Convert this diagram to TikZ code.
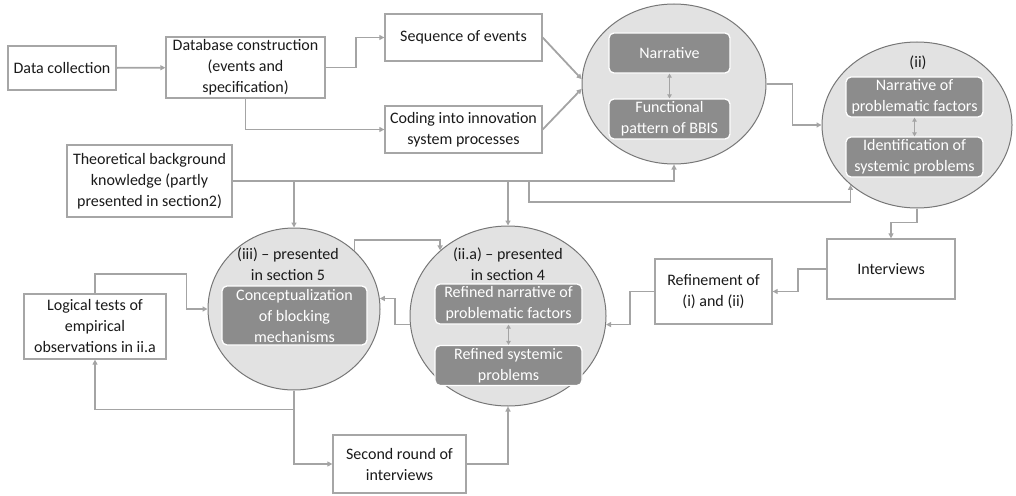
\documentclass[tikz,border=0pt]{standalone}
\usepackage{fontspec}
\setmainfont{Carlito}
\usetikzlibrary{arrows.meta,shapes.geometric,calc}
\definecolor{linegray}{HTML}{A4A4A4}
\definecolor{boxline}{HTML}{A6A6A6}
\definecolor{ovalfill}{HTML}{E2E2E2}
\definecolor{ovalline}{HTML}{777777}
\definecolor{innerfill}{HTML}{8C8C8C}
\definecolor{txt}{HTML}{1A1A1A}

\tikzset{
  conn/.style={draw=linegray, line width=1.8pt, -{Triangle[length=5pt,width=5pt]}},
  twoway/.style={draw=linegray, line width=1.4pt, {Triangle[length=4pt,width=4.5pt]}-{Triangle[length=4pt,width=4.5pt]}},
  txtbox/.style={draw=boxline, line width=1.3pt, fill=white, align=center, text=txt,
    font=\fontsize{16}{21}\selectfont, inner sep=0pt},
  oval/.style={ellipse, draw=ovalline, fill=ovalfill, line width=1pt, inner sep=0pt},
  innerbox/.style={draw=white, fill=innerfill, rounded corners=5pt, line width=1.3pt,
    text=white, align=center, font=\fontsize{16}{21}\selectfont, inner sep=0pt},
  ovallabel/.style={align=center, text=txt, font=\fontsize{16}{21}\selectfont, inner sep=0pt},
}

\begin{document}
\begin{tikzpicture}[x=1pt,y=-1pt]
\useasboundingbox (0,0) rectangle (1016,495);

% rectangular steps
\node[txtbox, minimum width=108, minimum height=44] (dc)  at (62,68)      {Data collection};
\node[txtbox, minimum width=159, minimum height=61] (db)  at (245.5,67.5) {Database construction\\(events and\\specification)};
\node[txtbox, minimum width=157, minimum height=47] (seq) at (463.5,37.5) {Sequence of events};
\node[txtbox, minimum width=157, minimum height=47] (cod) at (463.5,129.5) {Coding into innovation\\system processes};
\node[txtbox, minimum width=165, minimum height=72] (th)  at (149.5,181)  {Theoretical background\\knowledge (partly\\presented in section2)};
\node[txtbox, minimum width=142, minimum height=65] (lg)  at (95,326.5)   {Logical tests of\\empirical\\observations in ii.a};
\node[txtbox, minimum width=133, minimum height=58] (sr)  at (399.5,464)  {Second round of\\interviews};
\node[txtbox, minimum width=117, minimum height=65] (ref) at (713.5,291.5) {Refinement of\\(i) and (ii)};
\node[txtbox, minimum width=128, minimum height=60] (int) at (891,269)    {Interviews};

% analysis stages
\node[oval, minimum width=184, minimum height=160] (e1) at (674,84) {};
\node[oval, minimum width=190, minimum height=166] (e2) at (917,125) {};
\node[oval, minimum width=172, minimum height=162] (e3) at (294,309) {};
\node[oval, minimum width=196, minimum height=180] (e4) at (508,316) {};

\node[innerbox, minimum width=121, minimum height=40] (n1) at (669.5,53)  {Narrative};
\node[innerbox, minimum width=121, minimum height=40] (f1) at (669.5,119) {Functional\\pattern of BBIS};

\node[ovallabel] (l2) at (918,63) {(ii)};
\node[innerbox, minimum width=137, minimum height=40] (n2) at (914.5,97)  {Narrative of\\problematic factors};
\node[innerbox, minimum width=137, minimum height=40] (i2) at (914.5,157) {Identification of\\systemic problems};

\node[ovallabel] (l3) at (288,264) {(iii) -- presented\\in section 5};
\node[innerbox, minimum width=145, minimum height=59] (c3) at (294.5,315.5) {Conceptualization\\of blocking\\mechanisms};

\node[ovallabel] (l4) at (508,264) {(ii.a) -- presented\\in section 4};
\node[innerbox, minimum width=147, minimum height=40] (r4) at (508.5,304) {Refined narrative of\\problematic factors};
\node[innerbox, minimum width=147, minimum height=40] (s4) at (508.5,365.5) {Refined systemic\\problems};

% links inside the stages
\draw[twoway] (n1) -- (f1);
\draw[twoway] (n2) -- (i2);
\draw[twoway] (r4) -- (s4);

% flow of the study
\draw[conn] (dc) -- (db);
\draw[conn] (db.east) -- ++(30,0) |- (seq.west);
\draw[conn] (db.south) |- (cod.west);
\draw[conn] (seq.east) -- (e1.177);
\draw[conn] (cod.east) -- (e1.183);
\draw[conn] (e1.east) -- ++(26,0) |- (e2.west);

% theory feeding the stages
\coordinate (split) at (529,181);
\coordinate (low) at (0,202);
\draw[conn] (th.east) -| (e1.south);
\draw[conn] (e3.north |- th.east) -- (e3.north);
\draw[conn] (e4.north |- th.east) -- (e4.north);
\draw[conn] (split) |- (e2.222 |- low) -- (e2.222);

% interviews and refinement
\draw[conn] (e2.south) -- ++(0,14) -| (int.north);
\draw[conn] (int.west) -- ++(-28,0) |- (ref.east);
\draw[conn] (ref.west) -- ++(-24,0) |- (e4.-5);
\draw[conn] (e4.185) -- ++(-15,0) |- (e3.7);
\draw[conn] (e3.44) -- ++(0,-11) -| (e4.136);

% tests and second round
\draw[conn] (lg.north) -- ++(0,-19) -| ($(e3.west)+(-21,0)$) -- (e3.west);
\coordinate (midsplit) at ($(e3.south)+(0,19)$);
\draw[conn] (e3.south) |- (sr.west);
\draw[conn] (midsplit) -| (lg.south);
\draw[conn] (sr.east) -| (e4.south);
\end{tikzpicture}
\end{document}
